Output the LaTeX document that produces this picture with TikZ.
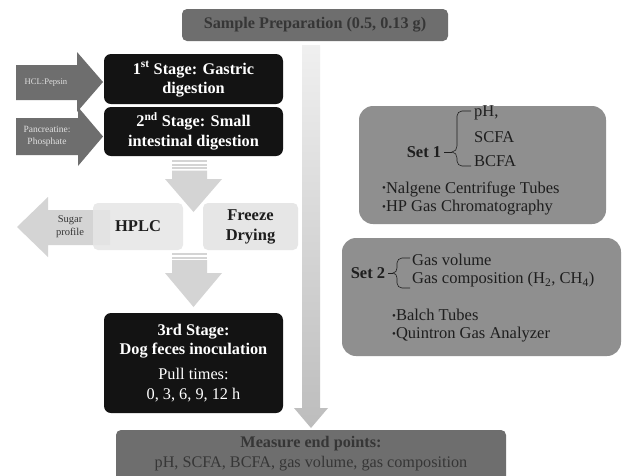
\documentclass[tikz,border=0pt]{standalone}
\usepackage{fontspec}
\setmainfont{Liberation Serif}
\definecolor{darkbox}{HTML}{6E6E6E}
\definecolor{darktext}{HTML}{363636}
\definecolor{setbox}{HTML}{8F8F8F}
\definecolor{stagebox}{HTML}{131313}
\definecolor{lightarrow}{HTML}{D4D4D4}
\definecolor{lightbox}{HTML}{E6E6E6}
\definecolor{inktext}{HTML}{1E1E1E}
\newcommand{\mybul}{{\fontsize{11}{11}\selectfont\raisebox{1.2pt}{•}}}
\begin{document}
\begin{tikzpicture}[x=1pt,y=-1pt,
  stagebox/.style={fill=stagebox, rounded corners=7pt, text=white, align=center,
    font=\bfseries\fontsize{16.3}{19}\selectfont},
  greybox/.style={fill=darkbox, rounded corners=5pt, text=darktext, align=center},
  lightbox/.style={fill=lightbox, rounded corners=5pt, text=inktext, align=center,
    font=\bfseries\fontsize{16.5}{20}\selectfont},
  setboxs/.style={fill=setbox, rounded corners=14pt},
  settext/.style={text=inktext, anchor=west, inner sep=0pt, font=\fontsize{16.5}{18}\selectfont},
  brace/.style={draw=inktext, line width=0.6pt},
  blockarrow/.style={fill=darkbox},
  lightarr/.style={fill=lightarrow}
]
\useasboundingbox (0,0) rectangle (622,475);
\fill[white] (0,0) rectangle (622,475);

% vertical main arrow
\shade[top color=gray!12, bottom color=gray!52]
  (302,45) -- (320,45) -- (320,408) -- (328,408) -- (311,428) -- (294,408) -- (302,408) -- cycle;

% sample preparation
\node[greybox, minimum width=266pt, minimum height=32pt, inner sep=0pt,
  font=\bfseries\fontsize{16.2}{18}\selectfont] (sample) at (315,25) {Sample Preparation (0.5, 0.13 g)};

% HCL arrows
\fill[blockarrow] (16,65) -- (77,65) -- (77,52) -- (103,82) -- (77,112) -- (77,100) -- (16,100) -- cycle;
\node[text=white!88!black, align=center, font=\fontsize{8.6}{10}\selectfont] (hcl) at (46,82.5) {HCL:Pepsin};
\fill[blockarrow] (16,118) -- (78,118) -- (78,107) -- (103,136.5) -- (78,166) -- (78,155) -- (16,155) -- cycle;
\node[text=white!88!black, align=center, font=\fontsize{9.5}{12}\selectfont] (panc) at (47,136.5) {Pancreatine:\\Phosphate};

% stage boxes
\node[stagebox, minimum width=179pt, minimum height=50pt, inner sep=0pt] (st1) at (193.5,79) {1\textsuperscript{st} Stage: Gastric\\digestion};
\node[stagebox, minimum width=179pt, minimum height=49pt, inner sep=0pt,
  font=\bfseries\fontsize{16.3}{20}\selectfont] (st2) at (193.5,131.5) {2\textsuperscript{nd} Stage: Small\\intestinal digestion};

% first striped down arrow
\fill[lightarr] (172,160) rectangle (207,162);
\fill[lightarr] (172,163.5) rectangle (207,165.5);
\fill[lightarr] (172,167) rectangle (207,169);
\fill[lightarr] (172,170.5) -- (207,170.5) -- (207,179) -- (222,179) -- (193.5,212) -- (165,179) -- (172,179) -- cycle;

% sugar arrow and HPLC
\fill[lightarr] (17,227) -- (48,197) -- (48,210) -- (110,210) -- (110,245) -- (48,245) -- (48,257) -- cycle;
\node[text=darktext, align=center, font=\fontsize{10.5}{13}\selectfont] (sugar) at (70,227) {Sugar\\profile};
\node[lightbox, fill opacity=0.85, text opacity=1, minimum width=90pt, minimum height=47pt, inner sep=0pt] (hplc) at (138,226.5) {HPLC};
\node[lightbox, minimum width=95pt, minimum height=47pt, inner sep=0pt] (freeze) at (250.5,226.5) {Freeze\\Drying};

% second striped down arrow
\fill[lightarr] (172,253) rectangle (207,255);
\fill[lightarr] (172,256.5) rectangle (207,258.5);
\fill[lightarr] (172,260) -- (207,260) -- (207,273) -- (222,273) -- (193.5,307) -- (165,273) -- (172,273) -- cycle;

% stage 3
\node[stagebox, minimum width=179pt, minimum height=100pt, inner sep=0pt] (st3) at (193.5,363)
  {3rd Stage:\\Dog feces inoculation\\[6pt]\mdseries Pull times:\\[1pt]\mdseries 0, 3, 6, 9, 12 h};

% set 1
\node[setboxs, minimum width=247pt, minimum height=118pt] (set1) at (482.5,165) {};
\node[settext, anchor=center, font=\bfseries\fontsize{16.5}{18}\selectfont] (s1) at (424,152) {Set 1};
\draw[brace] (s1.east) ++(3,0) -- (452,152);
\draw[brace] (471,111) -- (462,111) to[out=180,in=90] (457,116) -- (457,146) to[out=-90,in=0] (452,152)
  to[out=0,in=90] (457,158) -- (457,161) to[out=-90,in=180] (462,166) -- (471,166);
\node[settext] (ph) at (474,113) {pH,};
\node[settext] (scfa) at (474,137) {SCFA};
\node[settext] (bcfa) at (474,161) {BCFA};
\node[settext] (nal) at (382,189) {\mybul Nalgene Centrifuge Tubes};
\node[settext] (hp) at (382,208) {\mybul HP Gas Chromatography};

% set 2
\node[setboxs, minimum width=279pt, minimum height=118pt] (set2) at (481.5,297) {};
\node[settext, anchor=center, font=\bfseries\fontsize{16.5}{18}\selectfont] (s2) at (368,273) {Set 2};
\draw[brace] (s2.east) ++(3,0) -- (393,273);
\draw[brace] (410,258) -- (402,258) to[out=180,in=90] (397,263) -- (397,268) to[out=-90,in=0] (393,273)
  to[out=0,in=90] (397,278) -- (397,283) to[out=-90,in=180] (402,288) -- (410,288);
\node[settext] (gv) at (412,260) {Gas volume};
\node[settext] (gc) at (412,280) {Gas composition (H\textsubscript{2}, CH\textsubscript{4})};
\node[settext] (balch) at (392,315) {\mybul Balch Tubes};
\node[settext] (quin) at (392,335) {\mybul Quintron Gas Analyzer};

% measure end points
\node[greybox, minimum width=390pt, minimum height=56pt, inner sep=0pt] (measure) at (311,458) {};
\node[text=darktext, align=center, font=\fontsize{16.2}{20}\selectfont] (mtext) at (311,454)
  {\textbf{Measure end points:}\\pH, SCFA, BCFA, gas volume, gas composition};
\end{tikzpicture}
\end{document}
